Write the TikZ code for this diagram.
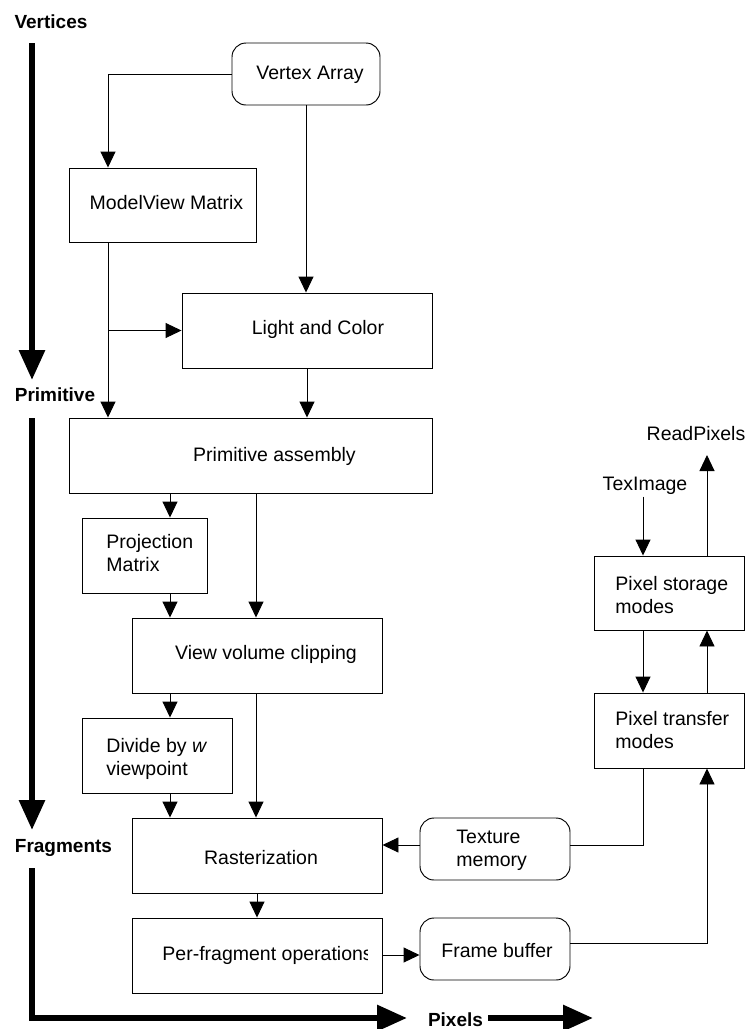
\documentclass[tikz,border=0pt]{standalone}
\usepackage{fontspec}
\setmainfont{Liberation Sans}
\usetikzlibrary{arrows.meta}

\begin{document}
\begin{tikzpicture}[x=1pt,y=-1pt,
  line width=0.95pt, line join=miter,
  box/.style={draw, rectangle, inner sep=0pt},
  rbox/.style={draw, rectangle, rounded corners=14pt, inner sep=0pt},
  txt/.style={font=\fontsize{19.5}{23}\selectfont, inner sep=0pt},
  mtxt/.style={txt, align=left, anchor=north west},
  lbl/.style={font=\fontsize{19}{23}\selectfont\bfseries, inner sep=0pt, anchor=base},
  arr/.style={-{Triangle[length=16pt,width=15pt]}},
  flow/.style={line width=6pt, -{Triangle[length=30pt,width=25pt]}},
]
\useasboundingbox (0,0) rectangle (746,1029);

% columns and rows used by the connectors
\coordinate (c1) at (108,0);
\coordinate (c2) at (170,0);
\coordinate (c3) at (256,0);
\coordinate (c4) at (643,0);
\coordinate (c5) at (707,0);
\coordinate (r1) at (0,845);
\coordinate (r2) at (0,955);
\coordinate (r3) at (0,943);

% boxes
\node[rbox, minimum width=148pt, minimum height=62pt] (va) at (306,74) {};
\node[box, minimum width=187pt, minimum height=74pt] (mv) at (162.5,205) {};
\node[box, minimum width=250pt, minimum height=75pt] (lc) at (307,330.5) {};
\node[box, minimum width=363pt, minimum height=75pt] (pa) at (250.5,455.5) {};
\node[box, minimum width=125pt, minimum height=75pt] (pm) at (144.5,555.5) {};
\node[box, minimum width=250pt, minimum height=75pt] (vv) at (257,655.5) {};
\node[box, minimum width=150pt, minimum height=75pt] (dw) at (157,755.5) {};
\node[box, minimum width=250pt, minimum height=75pt] (ra) at (257,855.5) {};
\node[box, minimum width=250pt, minimum height=75pt] (pf) at (257,955.5) {};
\node[rbox, minimum width=150pt, minimum height=62pt] (tm) at (495,849) {};
\node[rbox, minimum width=150pt, minimum height=62pt] (fb) at (495,949) {};
\node[box, minimum width=150pt, minimum height=74pt] (ps) at (669,593) {};
\node[box, minimum width=150pt, minimum height=75pt] (pt) at (669,730.5) {};

% box texts
\node[txt, anchor=base] (tva) at (310,79) {Vertex Array};
\node[txt, anchor=base] (tmv) at (166.5,209) {ModelView Matrix};
\node[txt, anchor=base] (tlc) at (318,334) {Light and Color};
\node[txt, anchor=base] (tpa) at (274.5,461) {Primitive assembly};
\node[mtxt] (tpm) at (106,534) {Projection\\Matrix};
\node[txt, anchor=base] (tvv) at (266,659) {View volume clipping};
\node[mtxt] (tdw) at (106,738) {Divide by \textit{w}\\viewpoint};
\node[txt, anchor=base] (tra) at (261,864) {Rasterization};
\begin{scope}
  \clip (132,918) rectangle (367,993);
  \node[txt, anchor=base west] (tpf) at (162,960) {Per-fragment operations};
\end{scope}
\node[mtxt] (ttm) at (456,830) {Texture\\memory};
\node[txt, anchor=base] (tfb) at (497,957) {Frame buffer};
\node[mtxt] (tps) at (615,576) {Pixel storage\\modes};
\node[mtxt] (tpt) at (615,711) {Pixel transfer\\modes};
\node[txt, anchor=base] (tex) at (645,490) {TexImage};
\node[txt, anchor=base] (rp) at (696,440) {ReadPixels};
\coordinate (rpin) at (707,455);

% stage labels
\node[lbl] (lv) at (51,28) {Vertices};
\node[lbl] (lp) at (55,401) {Primitive};
\node[lbl] (lf) at (63.5,852) {Fragments};
\node[lbl] (lx) at (455.5,1026) {Pixels};

% stage flow arrows
\coordinate (f0) at (32,43);
\coordinate (f1) at (32,380);
\coordinate (f2) at (32,418);
\coordinate (f3) at (32,830);
\coordinate (f4) at (32,868);
\coordinate (f5) at (32,1018);
\coordinate (f6) at (407,1018);
\coordinate (f7) at (488,1018);
\coordinate (f8) at (593,1018);
\draw[flow] (f0) -- (f1);
\draw[flow] (f2) -- (f3);
\draw[flow] (f4) -- (f5) -- (f6);
\draw[flow] (f7) -- (f8);

% connectors
\draw[arr] (va.west) -| (c1 |- mv.north);
\draw[arr] (va.south) -- (va.south |- lc.north);
\draw[arr] (c1 |- mv.south) -- (c1 |- pa.north);
\draw[arr] (c1 |- lc.west) -- (lc.west);
\draw[arr] (lc.south) -- (lc.south |- pa.north);
\draw[arr] (c2 |- pa.south) -- (c2 |- pm.north);
\draw[arr] (c3 |- pa.south) -- (c3 |- vv.north);
\draw[arr] (c2 |- pm.south) -- (c2 |- vv.north);
\draw[arr] (c2 |- vv.south) -- (c2 |- dw.north);
\draw[arr] (c3 |- vv.south) -- (c3 |- ra.north);
\draw[arr] (c2 |- dw.south) -- (c2 |- ra.north);
\draw[arr] (ra.south) -- (pf.north);
\draw[arr] (tm.west |- r1) -- (ra.east |- r1);
\draw (tm.east |- r1) -| (c4 |- pt.south);
\draw[arr] (pf.east |- r2) -- (fb.west |- r2);
\draw[arr] (fb.east |- r3) -| (c5 |- pt.south);
\draw[arr] (c4 |- ps.south) -- (c4 |- pt.north);
\draw[arr] (c5 |- pt.north) -- (c5 |- ps.south);
\draw[arr, shorten <=2pt] (c4 |- tex.south) -- (c4 |- ps.north);
\draw[arr] (c5 |- ps.north) -- (rpin);
\end{tikzpicture}
\end{document}
